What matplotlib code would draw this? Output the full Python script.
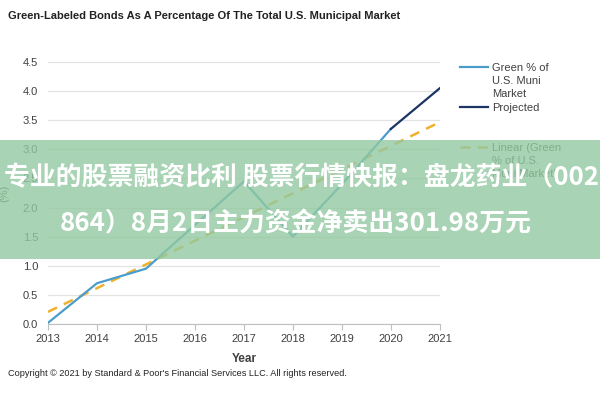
import numpy as np
import matplotlib
matplotlib.use("Agg")
import matplotlib.pyplot as plt
from matplotlib.lines import Line2D
from matplotlib.patches import Rectangle

years = [2013, 2014, 2015, 2016, 2017, 2018, 2019, 2020]
green_pct = [0.02, 0.70, 0.95, 1.70, 2.45, 1.50, 2.40, 3.35]
proj_years = [2020, 2021]
proj_pct = [3.35, 4.05]
trend_years = [2013, 2021]
xticks = list(range(2013, 2022))
yticks = [0.0, 0.5, 1.0, 1.5, 2.0, 2.5, 3.0, 3.5, 4.0, 4.5]

title = "Green-Labeled Bonds As A Percentage Of The Total U.S. Municipal Market"
credit = "Copyright \u00a9 2021 by Standard & Poor's Financial Services LLC. All rights reserved."
banner1 = "专业的股票融资比利 股票行情快报：盘龙药业（002"
banner2 = "864）8月2日主力资金净卖出301.98万元"

plt.rcParams['font.family'] = ['Liberation Sans', 'DejaVu Sans']
grey = '#404040'

fig = plt.figure(figsize=(6, 4), dpi=100)
ax = fig.add_axes([0.08, 0.19, 0.653, 0.655])

# linear trend of the green series
k, b = np.polyfit(years, green_pct, 1)
trend = [k * x + b for x in trend_years]

l_green, = ax.plot(years, green_pct, color='#4a9dcb', lw=1.6, zorder=3)
l_proj, = ax.plot(proj_years, proj_pct, color='#1c3564', lw=1.6, zorder=3)
l_trend, = ax.plot(trend_years, trend, color='#eeb12c', lw=1.8,
                   dashes=(4, 3), zorder=2)

ax.set_xlim(2013, 2021)
ax.set_ylim(0, 4.5)
ax.set_xticks(xticks)
ax.set_yticks(yticks)
ax.set_yticklabels([f"{v:.1f}" for v in yticks])
ax.grid(axis='y', color='#e3e3e3', lw=0.9)
ax.set_axisbelow(True)
for s in ['top', 'right', 'left']:
    ax.spines[s].set_visible(False)
ax.spines['bottom'].set_color('#bfbfbf')
ax.tick_params(axis='x', colors='#bfbfbf', labelcolor=grey, labelsize=8,
               length=4, direction='out')
ax.tick_params(axis='y', length=0, labelcolor=grey, labelsize=8, pad=7)
ax.set_xlabel("Year", fontsize=8.5, fontweight='bold', color=grey, labelpad=6)
ax.set_ylabel("(%)", fontsize=8, color=grey, labelpad=10)

blank = Line2D([], [], color='none')
handles = [l_green, blank, blank, l_proj, blank, blank, l_trend, blank, blank]
labels = ["Green % of", "U.S. Muni", "Market", "Projected", " ", " ",
          "Linear (Green", "% of U.S.", "Muni Market)"]
ax.legend(handles, labels, loc='upper left', bbox_to_anchor=(1.025, 1.035),
          frameon=False, fontsize=8, labelspacing=0.3, handlelength=2.6,
          handletextpad=0.3, labelcolor=grey)

fig.text(0.013, 0.96, title, fontsize=8, fontweight='bold', color='#222222',
         va='center')
fig.text(0.013, 0.065, credit, fontsize=6.6, color='#222222', va='center')

# overlay banner
fig.patches.append(Rectangle((0, 0.353), 1, 0.297, transform=fig.transFigure,
                             facecolor='#92c9a1', alpha=0.8, zorder=5))
cjk = ['Noto Sans CJK SC', 'DejaVu Sans']
fig.text(0.006, 0.555, banner1, fontsize=18.6, color='white', fontweight='bold',
         family=cjk, va='center', zorder=6)
fig.text(0.1, 0.44, banner2, fontsize=18.6, color='white', fontweight='bold',
         family=cjk, va='center', zorder=6)

fig.savefig("out.png", dpi=100)
